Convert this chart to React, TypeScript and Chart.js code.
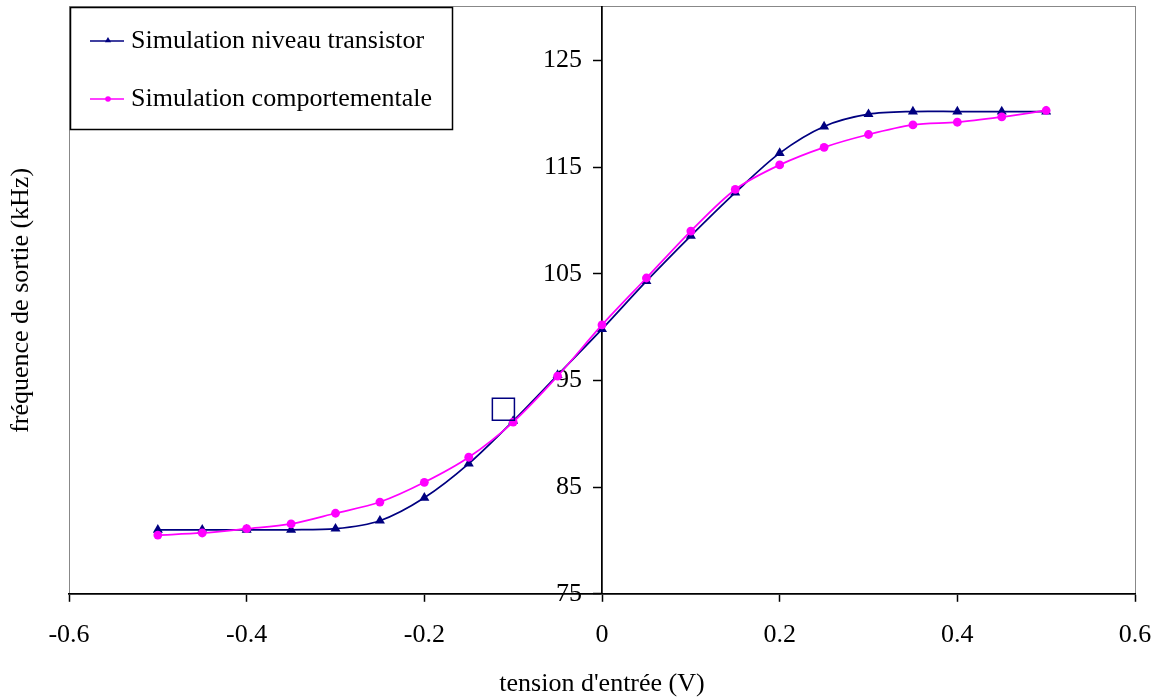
import React, { useEffect, useRef } from 'react';
import { Chart, registerables } from 'chart.js';

Chart.register(...registerables);

// ---- Data ----
const xValues = [-0.5, -0.45, -0.4, -0.35, -0.3, -0.25, -0.2, -0.15, -0.1, -0.05, 0, 0.05, 0.1, 0.15, 0.2, 0.25, 0.3, 0.35, 0.4, 0.45, 0.5];
const transistorValues = [81.0, 81.0, 81.0, 81.0, 81.1, 81.85, 84.0, 87.2, 91.2, 95.5, 99.8, 104.3, 108.55, 112.6, 116.3, 118.8, 119.95, 120.2, 120.2, 120.2, 120.2];
const comportementaleValues = [80.5, 80.7, 81.1, 81.55, 82.55, 83.6, 85.45, 87.8, 91.1, 95.4, 100.2, 104.6, 109.0, 112.9, 115.2, 116.85, 118.05, 118.95, 119.2, 119.7, 120.3];
const squareMarkerX = [-0.111];
const squareMarkerY = [92.3];
const xTicks = [-0.6, -0.4, -0.2, 0, 0.2, 0.4, 0.6];
const yTicks = [75, 85, 95, 105, 115, 125];
const seriesLabels = ['Simulation niveau transistor', 'Simulation comportementale'];
const xTitle = "tension d'entrée (V)";
const yTitle = 'fréquence de sortie (kHz)';

const NAVY = '#000080';
const MAGENTA = '#FF00FF';
const FONT = "'Liberation Serif', 'Times New Roman', serif";

const frame = {
  id: 'frame',
  beforeDraw(chart: any) {
    const { ctx, chartArea } = chart;
    ctx.save();
    ctx.strokeStyle = '#888888';
    ctx.lineWidth = 1;
    ctx.strokeRect(Math.round(chartArea.left) + 0.5, Math.round(chartArea.top) - 0.5, Math.round(chartArea.right - chartArea.left), Math.round(chartArea.bottom - chartArea.top));
    ctx.restore();
  },
};

function drawTriangle(ctx: CanvasRenderingContext2D, x: number, y: number, r: number) {
  ctx.beginPath();
  ctx.moveTo(x, y - r);
  ctx.lineTo(x + r * 0.866, y + r * 0.5);
  ctx.lineTo(x - r * 0.866, y + r * 0.5);
  ctx.closePath();
  ctx.fill();
}

const boxLegend = {
  id: 'boxLegend',
  afterDraw(chart: any) {
    const { ctx, chartArea } = chart;
    const left = Math.round(chartArea.left) + 1;
    const top = Math.round(chartArea.top);
    ctx.save();
    ctx.fillStyle = '#ffffff';
    ctx.fillRect(left, top, 382, 122);
    ctx.strokeStyle = '#000000';
    ctx.lineWidth = 1.5;
    ctx.strokeRect(left + 0.5, top + 0.5, 382, 122);
    const colors = [NAVY, MAGENTA];
    seriesLabels.forEach((label, i) => {
      const y = top + 34 + i * 58;
      ctx.strokeStyle = colors[i];
      ctx.fillStyle = colors[i];
      ctx.lineWidth = 1.5;
      ctx.beginPath();
      ctx.moveTo(left + 20, y);
      ctx.lineTo(left + 54, y);
      ctx.stroke();
      if (i === 0) {
        drawTriangle(ctx, left + 38, y - 0.5, 3.6);
      } else {
        ctx.beginPath();
        ctx.arc(left + 38, y, 2.8, 0, Math.PI * 2);
        ctx.fill();
      }
      ctx.fillStyle = '#000000';
      ctx.font = `26px ${FONT}`;
      ctx.textAlign = 'left';
      ctx.textBaseline = 'middle';
      ctx.fillText(label, left + 61, y);
    });
    // y axis title
    ctx.save();
    ctx.translate(21, (chartArea.top + chartArea.bottom) / 2);
    ctx.rotate(-Math.PI / 2);
    ctx.fillStyle = '#000000';
    ctx.font = `26px ${FONT}`;
    ctx.textAlign = 'center';
    ctx.textBaseline = 'middle';
    ctx.fillText(yTitle, 0, 0);
    ctx.restore();
    ctx.restore();
  },
};

const noOverhang = (s: any) => {
  s.paddingTop = 0;
  s.paddingBottom = 0;
  s.paddingLeft = 0;
  s.paddingRight = 0;
};

export default function App() {
  const canvasRef = useRef<HTMLCanvasElement | null>(null);

  useEffect(() => {
    if (!canvasRef.current) return;
    Chart.defaults.font.family = FONT;
    Chart.defaults.font.size = 26;
    Chart.defaults.color = '#000000';

    const chart = new Chart(canvasRef.current, {
      type: 'line',
      data: {
        datasets: [
          {
            label: seriesLabels[0],
            data: xValues.map((x, i) => ({ x, y: transistorValues[i] })),
            borderColor: NAVY,
            backgroundColor: NAVY,
            borderWidth: 1.75,
            pointStyle: 'triangle',
            pointRadius: 5.8,
            pointBorderWidth: 0,
            tension: 0.3,
            fill: false,
            order: 1,
          },
          {
            label: seriesLabels[1],
            data: xValues.map((x, i) => ({ x, y: comportementaleValues[i] })),
            borderColor: MAGENTA,
            backgroundColor: MAGENTA,
            borderWidth: 1.75,
            pointStyle: 'circle',
            pointRadius: 4.4,
            pointBorderWidth: 0,
            tension: 0.3,
            fill: false,
            order: 0,
          },
          {
            label: 'marker',
            data: squareMarkerX.map((x, i) => ({ x, y: squareMarkerY[i] })),
            showLine: false,
            borderColor: NAVY,
            backgroundColor: 'rgba(0,0,0,0)',
            pointStyle: 'rect',
            pointRadius: 15.6,
            pointBorderWidth: 1.5,
            order: -1,
          },
        ],
      },
      options: {
        responsive: false,
        animation: false,
        devicePixelRatio: 1,
        layout: { autoPadding: false, padding: { left: 69, right: 22, top: 7, bottom: 0 } },
        plugins: {
          legend: { display: false },
          tooltip: { enabled: false },
        },
        scales: {
          x: {
            type: 'linear',
            position: 'bottom',
            min: -0.6,
            max: 0.6,
            afterBuildTicks: (s: any) => {
              s.ticks = xTicks.map((v) => ({ value: v }));
            },
            afterFit: noOverhang,
            ticks: {
              padding: 18,
              maxRotation: 0,
              autoSkip: false,
              callback: (v: any) => String(Math.round(Number(v) * 10) / 10),
              font: { size: 26, lineHeight: 1.2 },
            },
            grid: { drawOnChartArea: false, drawTicks: true, tickLength: 8, color: '#000', tickWidth: 1.5 },
            border: { display: true, color: '#000', width: 1.75 },
            title: {
              display: true,
              text: xTitle,
              font: { size: 26, lineHeight: 1 },
              padding: { top: 2, bottom: 0 },
            },
          },
          y: {
            type: 'linear',
            position: 'center',
            min: 75,
            max: 130,
            afterBuildTicks: (s: any) => {
              s.ticks = yTicks.map((v) => ({ value: v }));
            },
            afterFit: noOverhang,
            ticks: {
              padding: 12,
              autoSkip: false,
              callback: (v: any) => String(v),
              font: { size: 26 },
            },
            grid: { drawOnChartArea: false, drawTicks: true, tickLength: 8, color: '#000', tickWidth: 1.5 },
            border: { display: true, color: '#000', width: 1.75 },
          },
        },
      },
      plugins: [frame, boxLegend],
    } as any);

    return () => chart.destroy();
  }, []);

  return (
    <div style={{ position: 'absolute', left: 0, top: 0, width: 1157, height: 697, background: '#fff' }}>
      <canvas ref={canvasRef} width={1157} height={697} style={{ display: 'block' }} />
    </div>
  );
}
